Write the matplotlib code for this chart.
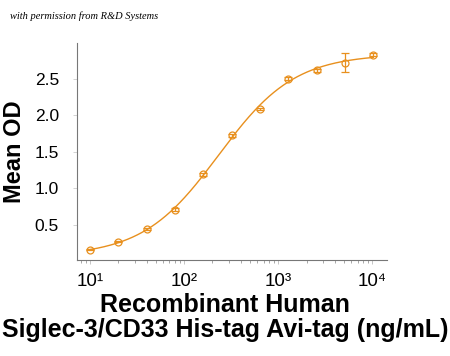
import numpy as np
import matplotlib
matplotlib.use("Agg")
import matplotlib.pyplot as plt
import matplotlib.transforms as mtransforms

plt.rcParams['font.family'] = ['Liberation Sans', 'DejaVu Sans']

conc = [10, 20, 40, 80, 160, 320, 640, 1280, 2560, 5120, 10240]
mean_od = [0.16, 0.27, 0.44, 0.705, 1.19, 1.73, 2.09, 2.50, 2.62, 2.72, 2.83]
od_err = [0.01, 0.01, 0.015, 0.02, 0.02, 0.02, 0.01, 0.02, 0.02, 0.13, 0.02]
xtick_vals = [10, 100, 1000, 10000]
xtick_labels = ['10\u00b9', '10\u00b2', '10\u00b3', '10\u2074']

orange = '#E8901E'

# 4PL fit by coarse grid search
x = np.array(conc, dtype=float)
y = np.array(mean_od)
b = np.linspace(0.0, 0.2, 21)
t = np.linspace(2.7, 3.2, 26)
c = np.logspace(np.log10(150), np.log10(450), 31)
h = np.linspace(0.8, 1.6, 33)
B, T, C, H = np.meshgrid(b, t, c, h, indexing='ij')
pred = B[..., None] + (T - B)[..., None] / (1 + (C[..., None] / x) ** H[..., None])
sse = ((pred - y) ** 2).sum(axis=-1)
i = np.unravel_index(np.argmin(sse), sse.shape)
bot, top, ec50, hill = B[i], T[i], C[i], H[i]

xs = np.logspace(1, np.log10(10240), 300)
ys = bot + (top - bot) / (1 + (ec50 / xs) ** hill)

fig = plt.figure(figsize=(4.5, 3.56), dpi=100)
ax = fig.add_axes([0.171, 0.27, 0.689, 0.609])

ax.plot(xs, ys, color=orange, lw=1.0)
ax.errorbar(conc, mean_od, yerr=od_err, fmt='o', mfc='none', mec=orange,
            ms=5, mew=0.9, ecolor=orange, elinewidth=0.9, capsize=3)

ax.set_xscale('log')
ax.set_xlim(7.3, 14300)
ax.set_ylim(0.02, 2.99)
ax.set_yticks([0.5, 1.0, 1.5, 2.0, 2.5])
ax.set_xticks(xtick_vals)

for s in ['top', 'right']:
    ax.spines[s].set_visible(False)
for s in ['left', 'bottom']:
    ax.spines[s].set_color('#777777')
    ax.spines[s].set_linewidth(0.8)
ax.tick_params(axis='y', which='major', labelsize=12.5, length=3, width=0.6,
               color='#cccccc', pad=10)
ax.tick_params(axis='x', which='major', length=3, width=0.6,
               color='#bbbbbb', labelbottom=False)
ax.tick_params(axis='x', which='minor', length=2.5, width=0.6, color='#999999',
               labelbottom=False)

# x tick labels placed at the log-scaled tick positions
trans = mtransforms.blended_transform_factory(ax.transData, ax.transAxes)
for v, lab in zip(xtick_vals, xtick_labels):
    ax.text(v, -0.06, lab, transform=trans, ha='center', va='top',
            fontsize=13.5, clip_on=False)

ax.set_ylabel('Mean OD', fontsize=17, fontweight='bold', labelpad=6)
fig.text(0.5, 0.176, 'Recombinant Human\nSiglec-3/CD33 His-tag Avi-tag (ng/mL)',
         fontsize=18, fontweight='bold', linespacing=1.05, ha='center',
         va='top', multialignment='center')

fig.text(0.022, 0.955, 'with permission from R&D Systems', fontsize=7.5,
         style='italic', family=['Liberation Serif', 'DejaVu Serif'], va='center')

fig.savefig('out.png', dpi=100)
